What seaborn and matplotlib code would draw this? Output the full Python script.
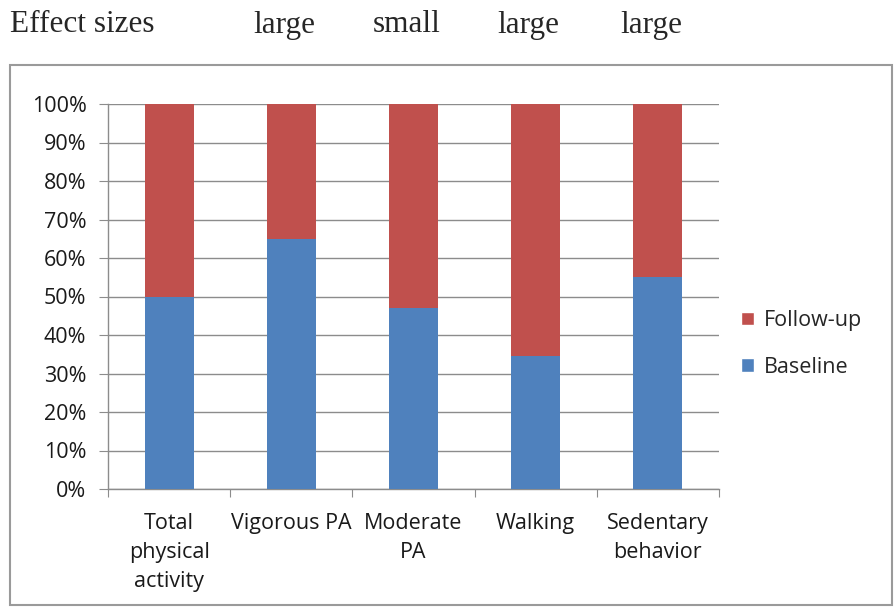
import matplotlib
matplotlib.use("Agg")
import matplotlib.pyplot as plt
from matplotlib.patches import Rectangle, Patch
from matplotlib.ticker import FixedLocator, PercentFormatter
import pandas as pd
import seaborn as sns

categories = [
    "Total\nphysical\nactivity",
    "Vigorous PA",
    "Moderate\nPA",
    "Walking",
    "Sedentary\nbehavior",
]
baseline = [50.0, 65.0, 47.0, 34.5, 55.0]
follow_up = [50.0, 35.0, 53.0, 65.5, 45.0]
effect_sizes = ["", "large", "small", "large", "large"]

BLUE = "#4F81BD"
RED = "#C0504D"
GRID = "#8C8C8C"

sns.set_style("white")
plt.rcParams["font.family"] = ["Open Sans", "DejaVu Sans"]

df = pd.DataFrame(
    {
        "category": categories,
        "baseline": baseline,
        "total": [b + f for b, f in zip(baseline, follow_up)],
    }
)

W, H = 895, 610
fig = plt.figure(figsize=(W / 100, H / 100), dpi=100)
ax = fig.add_axes([108 / W, 1 - 489 / H, 611 / W, 385 / H])

sns.barplot(data=df, x="category", y="total", color=RED, width=0.4,
            saturation=1, ax=ax, zorder=3)
sns.barplot(data=df, x="category", y="baseline", color=BLUE, width=0.4,
            saturation=1, ax=ax, zorder=3)
for p in ax.patches:
    p.set_linewidth(0)

ax.set_xlim(-0.5, len(categories) - 0.5)
ax.set_ylim(0, 100)
ax.set_yticks(range(0, 101, 10))
ax.yaxis.set_major_formatter(PercentFormatter(decimals=0))
ax.grid(axis="y", color=GRID, linewidth=1.0, zorder=0)
ax.set_xlabel("")
ax.set_ylabel("")

for side in ["top", "right"]:
    ax.spines[side].set_visible(False)
for side in ["left", "bottom"]:
    ax.spines[side].set_color(GRID)
    ax.spines[side].set_linewidth(1.0)

ax.xaxis.set_major_locator(FixedLocator([i - 0.5 for i in range(len(categories) + 1)]))
ax.xaxis.set_minor_locator(FixedLocator(range(len(categories))))
ax.set_xticklabels([""] * (len(categories) + 1))
ax.set_xticklabels(categories, minor=True)
ax.tick_params(axis="x", which="major", bottom=True, length=6, color=GRID)
ax.tick_params(axis="x", which="minor", bottom=False, length=0, pad=17,
               labelsize=15.5, colors="#1a1a1a")
ax.tick_params(axis="y", left=True, length=6.5, color=GRID, labelsize=15.5,
               labelcolor="#1a1a1a", pad=9)
for lbl in ax.get_xticklabels(minor=True):
    lbl.set_linespacing(1.5)
    lbl.set_va("top")

# legend
handles = [Patch(facecolor=RED, label="Follow-up"),
           Patch(facecolor=BLUE, label="Baseline")]
fig.legend(handles=handles, loc="center left", bbox_to_anchor=(722 / W, 1 - 344 / H),
           frameon=False, fontsize=15.5, handlelength=0.6, handleheight=0.6,
           handletextpad=0.45, labelspacing=1.2)

# chart border
fig.patches.append(Rectangle((10 / W, 1 - 605 / H), 882 / W, 540 / H,
                             transform=fig.transFigure, fill=False,
                             edgecolor="#9a9a9a", linewidth=1.5))

# effect size header
serif = ["Liberation Serif", "DejaVu Serif"]
fig.text(10 / W, 1 - 25 / H, "Effect sizes", family=serif,
         fontsize=22.5, va="center", ha="left")
for i, lab in enumerate(effect_sizes):
    if not lab:
        continue
    x_fig = fig.transFigure.inverted().transform(ax.transData.transform((i, 0)))[0]
    fig.text(x_fig - 7 / W, 1 - 25 / H, lab, family=serif,
             fontsize=22.5, va="center", ha="center")

fig.savefig("out.png", dpi=100, facecolor="white")
